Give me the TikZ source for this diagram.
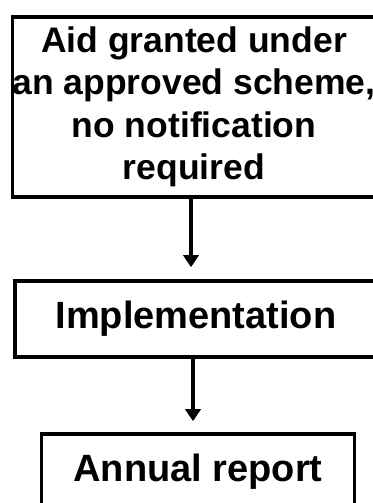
\documentclass[tikz,border=0pt]{standalone}
\usepackage{fontspec}
\setmainfont{Liberation Sans}
\usetikzlibrary{arrows.meta}
\begin{document}
\begin{tikzpicture}
[
x=1pt, y=1pt,
stagebox/.style={rectangle, draw=black, line width=3.5pt, align=center, inner sep=0pt, font=\bfseries\fontsize{38}{42}\selectfont},
flowarrow/.style={line width=3.5pt, -{Triangle[length=12pt, width=15pt]}}
]
\useasboundingbox (0,0) rectangle (372,503);
%Nodes
\node[stagebox, minimum width=362, minimum height=180, font=\bfseries\fontsize{35.5}{42.5}\selectfont] at(194,396)	(aid) {Aid granted under\\an approved scheme,\\no notification\\required};
\node[stagebox, minimum width=362, minimum height=76] at(196,184)	(impl) {Implementation};
\node[stagebox, minimum width=313, minimum height=76] at(198,31)	(report) {Annual report};
%Arrows
\draw[flowarrow, shorten >=12pt] ([xshift=-3pt]aid.south) -- ([xshift=-5pt]impl.north);
\draw[flowarrow, shorten >=11pt] ([xshift=-3pt]impl.south) -- ([xshift=-5pt]report.north);

\end{tikzpicture}
\end{document}
